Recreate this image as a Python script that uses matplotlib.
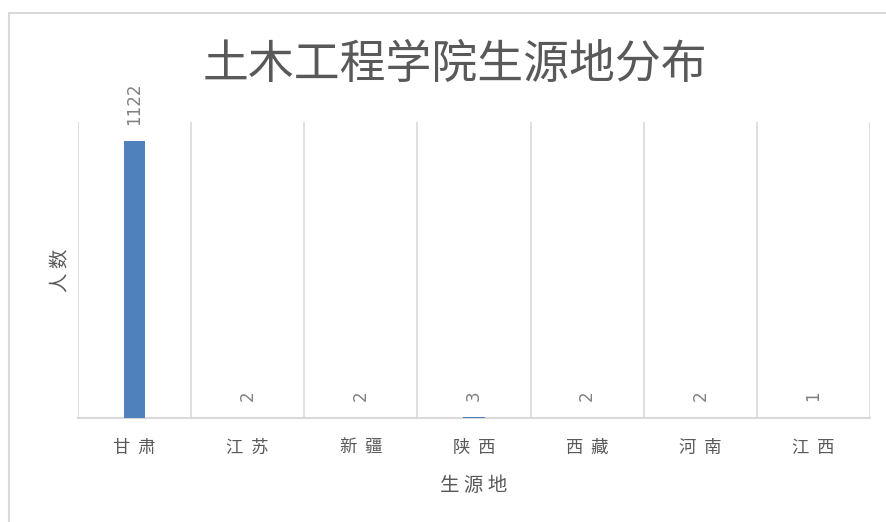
import matplotlib
matplotlib.use('Agg')
import matplotlib.pyplot as plt
import numpy as np

plt.rcParams['font.family'] = ['Noto Sans CJK SC', 'DejaVu Sans']
plt.rcParams['font.weight'] = 'light'

provinces = ['甘  肃', '江  苏', '新  疆', '陕  西', '西  藏', '河  南', '江  西']
counts = [1122, 2, 2, 3, 2, 2, 1]

textGray = '#595959'
lineGray = '#d9d9d9'

fig = plt.figure(figsize=(8.87, 5.22), dpi=100)
ax = fig.add_axes([78/887, 1-418/522, 792/887, 296/522])

ind = np.arange(len(provinces))
ax.bar(ind, counts, 0.19, color='#4f81bd', zorder=3)

ax.set_xlim(-0.5, len(provinces)-0.5)
ax.set_ylim(0, 1200)

# category separators like Excel
for b in np.arange(-0.5, len(provinces), 1.0):
    ax.axvline(b, color=lineGray, linewidth=1.2, zorder=1)

for sp in ['top', 'right', 'left']:
    ax.spines[sp].set_visible(False)
ax.spines['bottom'].set_color(lineGray)
ax.spines['bottom'].set_linewidth(1.5)

ax.set_yticks([])
ax.set_xticks(ind)
ax.set_xticklabels(provinces, fontsize=12.5, color=textGray)
ax.tick_params(axis='x', length=0, pad=15)

for i, v in enumerate(counts):
    ax.annotate(str(v), (i, v), xytext=(0, 12), textcoords='offset points',
                rotation=90, ha='center', va='bottom', fontsize=12,
                color='#808080', family='DejaVu Sans', fontweight='normal')

ax.set_xlabel('生 源 地', fontsize=14, color=textGray, labelpad=13)
fig.text(61/887, 1-270/522, '人 数', rotation=90, fontsize=14, color=textGray,
         ha='center', va='center')

fig.text(455/887, 1-65/522, '土木工程学院生源地分布', fontsize=33, color=textGray,
         ha='center', va='center')

# chart frame
fig.patches.append(plt.Rectangle((9/887, -0.1), 1.0, 1-13/522+0.1, transform=fig.transFigure,
                                 fill=False, edgecolor=lineGray, linewidth=1.5))

fig.savefig('out.png', dpi=100)
